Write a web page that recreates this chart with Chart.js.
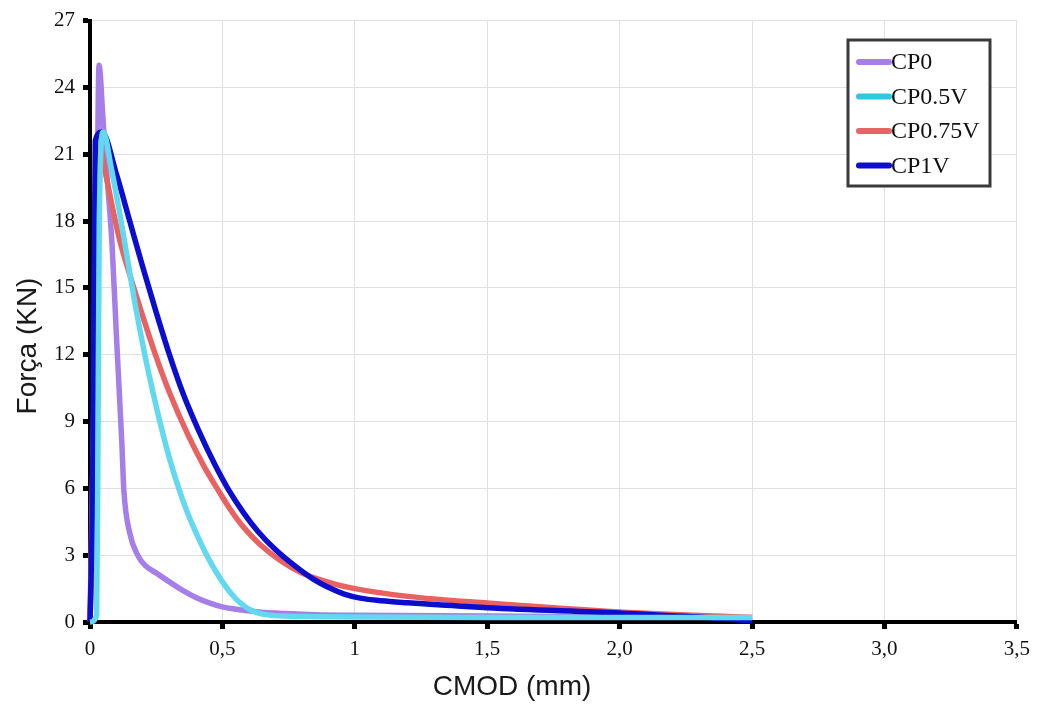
<!DOCTYPE html>
<html>
<head>
<meta charset="utf-8">
<title>CMOD x Força</title>
<script src="https://cdn.jsdelivr.net/npm/chart.js@4.4.1/dist/chart.umd.min.js"></script>
<style>
    html, body { margin: 0; padding: 0; background: #fff; }
    #wrap { width: 1038px; height: 704px; }
</style>
</head>
<body>
<div id="wrap"><canvas id="cmodChart" width="1038" height="704"></canvas></div>
<script>
// Series names
const seriesNames = ['CP0', 'CP0.5V', 'CP0.75V', 'CP1V'];

// CP0
const cp0X = [0, 0.015, 0.025, 0.034, 0.05, 0.065, 0.083, 0.1, 0.112, 0.12, 0.128, 0.15, 0.18, 0.207, 0.25, 0.3, 0.35, 0.4, 0.45, 0.5, 0.6, 0.7, 0.85, 1.0, 1.5, 2.0, 2.5];
const cp0Y = [0, 6, 16, 25, 22.4, 19.9, 17, 12.8, 10, 8.1, 5.9, 4.0, 3.0, 2.55, 2.2, 1.8, 1.42, 1.1, 0.86, 0.68, 0.5, 0.4, 0.33, 0.3, 0.27, 0.24, 0.2];

// CP0.5V
const cp05X = [0, 0.025, 0.03, 0.035, 0.05, 0.08, 0.11, 0.14, 0.17, 0.207, 0.24, 0.27, 0.3, 0.335, 0.365, 0.395, 0.445, 0.5, 0.55, 0.59, 0.63, 0.67, 0.75, 0.85, 1.0, 1.5, 2.0, 2.5];
const cp05Y = [0, 0.3, 8, 18, 22, 20.4, 18.5, 16.4, 14.3, 12.0, 10.2, 8.7, 7.35, 6.0, 5.0, 4.15, 2.9, 1.8, 1.05, 0.65, 0.42, 0.32, 0.26, 0.24, 0.22, 0.2, 0.2, 0.2];

// CP0.75V
const cp075X = [0, 0.015, 0.03, 0.04, 0.056, 0.085, 0.113, 0.15, 0.2, 0.25, 0.3, 0.37, 0.43, 0.485, 0.53, 0.58, 0.64, 0.72, 0.8, 0.91, 1.0, 1.2, 1.5, 2.0, 2.5];
const cp075Y = [0, 10, 19, 21.2, 20.3, 18.6, 17.1, 15.6, 13.7, 11.9, 10.3, 8.4, 7.0, 5.9, 5.05, 4.25, 3.5, 2.75, 2.2, 1.75, 1.5, 1.15, 0.85, 0.45, 0.2];

// CP1V
const cp1X = [0, 0.01, 0.02, 0.045, 0.1, 0.15, 0.2, 0.25, 0.3, 0.35, 0.41, 0.47, 0.52, 0.58, 0.635, 0.7, 0.77, 0.84, 0.91, 0.96, 1.02, 1.1, 1.2, 1.5, 2.0, 2.3, 2.5];
const cp1Y = [0, 6, 21.6, 22, 20.1, 18.0, 15.9, 13.9, 12.0, 10.3, 8.6, 7.1, 6.0, 4.9, 4.05, 3.25, 2.55, 1.95, 1.5, 1.25, 1.07, 0.95, 0.86, 0.64, 0.4, 0.22, 0.05];

// Tick labels
const xTickLabels = ['0', '0,5', '1', '1,5', '2,0', '2,5', '3,0', '3,5'];
const yTickLabels = ['0', '3', '6', '9', '12', '15', '18', '21', '24', '27'];

const seriesColors = ['#a57ee7', '#62d9ef', '#e86262', '#0d0dcf'];
const legendColors = ['#a57ee7', '#2fc8e0', '#e66464', '#0d0dcf'];

function toPoints(xs, ys) {
    return xs.map((x, i) => ({ x: x, y: ys[i] }));
}

// White background
const bgPlugin = {
    id: 'bg',
    beforeDraw(chart) {
        const ctx = chart.ctx;
        ctx.save();
        ctx.fillStyle = '#fff';
        ctx.fillRect(0, 0, chart.width, chart.height);
        ctx.restore();
    }
};

// Axis titles, placed where the original has them
const titlePlugin = {
    id: 'axisTitles',
    afterDraw(chart) {
        const ctx = chart.ctx;
        ctx.save();
        ctx.fillStyle = '#1a1a1a';
        ctx.font = '28px "Liberation Sans", Arial, sans-serif';
        ctx.textAlign = 'center';
        ctx.textBaseline = 'middle';
        ctx.fillText('CMOD (mm)', 512, 687);
        ctx.translate(28, 346);
        ctx.rotate(-Math.PI / 2);
        ctx.fillText('Força (KN)', 0, 0);
        ctx.restore();
    }
};

// Boxed legend in the top right corner
const legendPlugin = {
    id: 'boxLegend',
    afterDraw(chart) {
        const ctx = chart.ctx;
        ctx.save();
        ctx.fillStyle = '#fff';
        ctx.fillRect(848, 40, 142, 146);
        ctx.strokeStyle = '#3a3a3a';
        ctx.lineWidth = 3;
        ctx.strokeRect(848, 40, 142, 146);
        ctx.font = '24px "Liberation Serif", "Times New Roman", serif';
        ctx.textBaseline = 'middle';
        ctx.textAlign = 'left';
        seriesNames.forEach((name, i) => {
            const y = 62 + i * 34.5;
            ctx.strokeStyle = legendColors[i];
            ctx.lineWidth = 6;
            ctx.lineCap = 'round';
            ctx.beginPath();
            ctx.moveTo(859, y);
            ctx.lineTo(889, y);
            ctx.stroke();
            ctx.fillStyle = '#111';
            ctx.fillText(name, 891, y + 1);
        });
        ctx.restore();
    }
};

const allX = [cp0X, cp05X, cp075X, cp1X];
const allY = [cp0Y, cp05Y, cp075Y, cp1Y];
const drawOrder = [4, 1, 3, 2];

const datasets = seriesNames.map((name, i) => ({
    label: name,
    data: toPoints(allX[i], allY[i]),
    borderColor: seriesColors[i],
    backgroundColor: seriesColors[i],
    borderWidth: 5.5,
    pointRadius: 0,
    cubicInterpolationMode: 'monotone',
    clip: false,
    order: drawOrder[i]
}));

const tickFont = { family: '"Liberation Serif", "Times New Roman", serif', size: 21 };

new Chart(document.getElementById('cmodChart'), {
    type: 'line',
    data: { datasets: datasets },
    options: {
        responsive: false,
        animation: false,
        layout: { padding: { top: 18, right: 19, left: 0, bottom: 0 } },
        plugins: {
            legend: { display: false },
            tooltip: { enabled: false }
        },
        scales: {
            x: {
                type: 'linear',
                min: 0,
                max: 3.5,
                afterFit: function(scale) { scale.height = 82; },
                ticks: {
                    stepSize: 0.5,
                    color: '#111',
                    font: tickFont,
                    padding: 8,
                    maxRotation: 0,
                    callback: function(value, index) { return xTickLabels[index]; }
                },
                grid: {
                    color: '#e0e0e0',
                    lineWidth: 1,
                    tickColor: '#000',
                    tickLength: 7,
                    tickWidth: 5
                },
                border: { color: '#000', width: 4 }
            },
            y: {
                type: 'linear',
                min: 0,
                max: 27,
                afterFit: function(scale) { scale.width = 90; },
                ticks: {
                    stepSize: 3,
                    color: '#111',
                    font: tickFont,
                    padding: 8,
                    callback: function(value, index) { return yTickLabels[index]; }
                },
                grid: {
                    color: '#e0e0e0',
                    lineWidth: 1,
                    tickColor: '#000',
                    tickLength: 7,
                    tickWidth: 5
                },
                border: { color: '#000', width: 4 }
            }
        }
    },
    plugins: [bgPlugin, titlePlugin, legendPlugin]
});
</script>
</body>
</html>
